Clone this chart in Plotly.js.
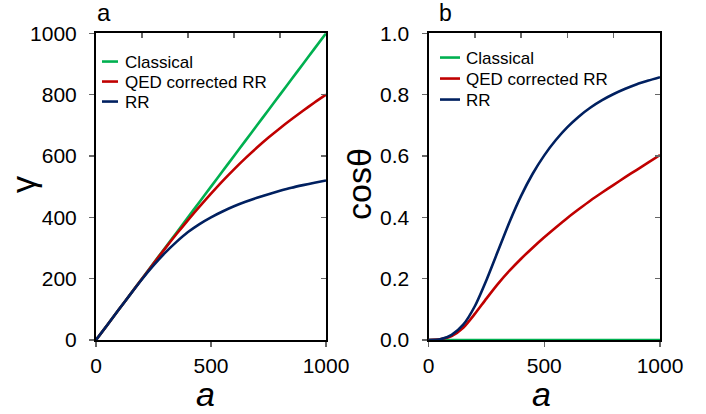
<!DOCTYPE html>
<html>
<head>
<meta charset="utf-8">
<script src="https://cdn.plot.ly/plotly-3.0.1.min.js"></script>
<style>html,body{margin:0;padding:0;background:#fff;}#chart{width:706px;height:414px;}</style>
</head>
<body>
<div id="chart"></div>
<script>
// ---- data ----
const aVals = [0,50,100,150,200,250,300,350,400,450,500,550,600,650,700,750,800,850,900,950,1000];
// panel a: gamma
const gammaClassical = [0,50,100,150,200,250,300,350,400,450,500,550,600,650,700,750,800,850,900,950,1000];
const gammaQED = [0,50,100,150,199.5,249,298,345.5,391,435,477,518,556.5,593,627.5,660,690.5,719.5,747.5,774.5,800];
const gammaRR = [0,50,100,149.5,198,243,284,320,352,378,400,419,436,450.5,463.5,475.5,486.5,496.5,505,512.8,520];
// panel b: cos(theta)
const cosClassical = [0,0,0,0,0,0,0,0,0,0,0,0,0,0,0,0,0,0,0,0,0];
const cosQED = [0,0.002,0.013,0.04,0.085,0.135,0.183,0.226,0.265,0.301,0.335,0.367,0.398,0.427,0.455,0.481,0.506,0.531,0.555,0.579,0.603];
const cosRR = [0,0.002,0.017,0.05,0.11,0.195,0.29,0.385,0.47,0.542,0.602,0.652,0.694,0.729,0.758,0.782,0.802,0.819,0.834,0.846,0.857];
const seriesNames = ['Classical','QED corrected RR','RR'];
const xTicksBottom = [0,500,1000];
const gammaTicks = [0,200,400,600,800,1000];
const cosTicks = [0,0.2,0.4,0.6,0.8,1.0];
const cosTickText = ['0.0','0.2','0.4','0.6','0.8','1.0'];

// ---- styling ----
const colors = ['rgb(0,176,80)','rgb(192,0,0)','rgb(0,32,96)'];
const FONT = 'Liberation Sans, Arial, sans-serif';
const W = 706, H = 414;
const px = v => v / W;
const py = v => 1 - v / H;

function mk(x, y, i, xa, ya, leg) {
  return {x: x, y: y, name: seriesNames[i], mode: 'lines', type: 'scatter',
    xaxis: xa, yaxis: ya, legend: leg, showlegend: true, cliponaxis: false,
    line: {color: colors[i], width: 2.6, shape: 'spline', smoothing: 0.6},
    hoverinfo: 'skip'};
}
// invisible carrier traces so the top/right tick-only axes are always drawn
function carrier(x, y, xa, ya) {
  return {x: x, y: y, mode: 'lines', type: 'scatter', xaxis: xa, yaxis: ya, showlegend: false,
    opacity: 0, line: {width: 0}, hoverinfo: 'skip'};
}

const traces = [
  mk(aVals, gammaClassical, 0, 'x', 'y', 'legend'),
  mk(aVals, gammaQED, 1, 'x', 'y', 'legend'),
  mk(aVals, gammaRR, 2, 'x', 'y', 'legend'),
  mk(aVals, cosClassical, 0, 'x2', 'y2', 'legend2'),
  mk(aVals, cosQED, 1, 'x2', 'y2', 'legend2'),
  mk(aVals, cosRR, 2, 'x2', 'y2', 'legend2'),
  carrier(aVals, gammaClassical, 'x3', 'y3'),
  carrier(aVals, cosClassical, 'x4', 'y4')
];

const dom1 = [px(96), px(326)];
const dom2 = [px(428.5), px(660)];
const ydom = [py(340), py(33.3)];
const tickFont = {family: FONT, size: 21, color: '#000'};
const TICKC = '#666';

function mainX(dom, anchor) {
  return {domain: dom, anchor: anchor, range: [0, 1000], tickmode: 'array', tickvals: xTicksBottom,
    ticks: 'outside', ticklen: 5, tickwidth: 1.5, tickcolor: TICKC, ticklabelstandoff: 1,
    showline: true, linecolor: '#000', linewidth: 2, mirror: true, showgrid: false, zeroline: false,
    tickfont: tickFont, layer: 'below traces', fixedrange: true};
}
function mainY(dom, anchor, range, vals, text) {
  const o = {domain: dom, anchor: anchor, range: range, tickmode: 'array', tickvals: vals,
    ticks: 'outside', ticklen: 5, tickwidth: 1.5, tickcolor: TICKC, ticklabelstandoff: 8,
    showline: true, linecolor: '#000', linewidth: 2, mirror: true, showgrid: false, zeroline: false,
    tickfont: tickFont, layer: 'below traces', fixedrange: true};
  if (text) o.ticktext = text;
  return o;
}
function topX(over, anchor, dom) {
  return {overlaying: over, anchor: anchor, side: 'top', domain: dom, range: [0, 1000], dtick: 200, tick0: 0,
    ticks: 'inside', ticklen: 5, tickwidth: 1.5, tickcolor: TICKC, showticklabels: false,
    showline: false, showgrid: false, zeroline: false, fixedrange: true};
}
function rightY(over, anchor, range, dt) {
  return {overlaying: over, anchor: anchor, side: 'right', range: range, dtick: dt, tick0: 0,
    ticks: 'inside', ticklen: 5, tickwidth: 1.5, tickcolor: TICKC, showticklabels: false,
    showline: false, showgrid: false, zeroline: false, fixedrange: true};
}

const legendFont = {family: FONT, size: 17, color: '#000'};
const layout = {
  width: W, height: H, autosize: false,
  margin: {l: 0, r: 0, t: 0, b: 0, pad: 0},
  paper_bgcolor: '#fff', plot_bgcolor: 'rgba(0,0,0,0)',
  font: {family: FONT, color: '#000'},
  xaxis: mainX(dom1, 'y'),
  yaxis: mainY(ydom, 'x', [0, 1000], gammaTicks),
  xaxis2: mainX(dom2, 'y2'),
  yaxis2: mainY(ydom, 'x2', [0, 1], cosTicks, cosTickText),
  xaxis3: topX('x', 'y3', dom1),
  yaxis3: rightY('y', 'x3', [0, 1000], 200),
  xaxis4: topX('x2', 'y4', dom2),
  yaxis4: rightY('y2', 'x4', [0, 1], 0.2),
  legend: {x: px(85), y: py(44), xanchor: 'left', yanchor: 'top', bgcolor: 'rgba(0,0,0,0)',
    borderwidth: 0, font: legendFont, itemclick: false, itemdoubleclick: false, tracegroupgap: 0},
  legend2: {x: px(426), y: py(40), xanchor: 'left', yanchor: 'top', bgcolor: 'rgba(0,0,0,0)',
    borderwidth: 0, font: legendFont, itemclick: false, itemdoubleclick: false, tracegroupgap: 0},
  annotations: [
    {text: 'γ', xref: 'paper', yref: 'paper', x: px(23), y: py(185), xanchor: 'center', yanchor: 'middle',
     textangle: -90, showarrow: false, font: {family: FONT, size: 34, color: '#000'}},
    {text: 'cosθ', xref: 'paper', yref: 'paper', x: px(359), y: py(184), xanchor: 'center', yanchor: 'middle',
     textangle: -90, showarrow: false, font: {family: FONT, size: 34, color: '#000'}},
    {text: '<i>a</i>', xref: 'paper', yref: 'paper', x: px(205), y: py(394), xanchor: 'center', yanchor: 'middle',
     showarrow: false, font: {family: FONT, size: 34, color: '#000'}},
    {text: '<i>a</i>', xref: 'paper', yref: 'paper', x: px(541), y: py(394), xanchor: 'center', yanchor: 'middle',
     showarrow: false, font: {family: FONT, size: 34, color: '#000'}},
    {text: 'a', xref: 'paper', yref: 'paper', x: px(104), y: py(12), xanchor: 'center', yanchor: 'middle',
     showarrow: false, font: {family: FONT, size: 24, color: '#000'}},
    {text: 'b', xref: 'paper', yref: 'paper', x: px(445), y: py(13), xanchor: 'center', yanchor: 'middle',
     showarrow: false, font: {family: FONT, size: 23, color: '#000'}}
  ]
};

function tidyLegend(cls, lineD, spacing) {
  const g = document.querySelector('g.' + cls);
  if (!g) return;
  g.querySelectorAll('.legendlines path').forEach(function (p) { p.setAttribute('d', lineD); });
  const items = g.querySelectorAll('g.traces');
  let y0 = null;
  items.forEach(function (it, i) {
    const tr = it.getAttribute('transform') || '';
    const m = tr.match(/translate\(\s*([-\d.eE]+)[ ,]+([-\d.eE]+)\s*\)/);
    if (!m) return;
    const x = parseFloat(m[1]), y = parseFloat(m[2]);
    if (y0 === null) y0 = y;
    it.setAttribute('transform', 'translate(' + x + ',' + (y0 + i * spacing) + ')');
  });
}

Plotly.newPlot('chart', traces, layout, {displayModeBar: false, staticPlot: true}).then(function () {
  tidyLegend('legend', 'M17,0h16', 20);
  tidyLegend('legend2', 'M14,0h20', 21);
});
</script>
</body>
</html>
